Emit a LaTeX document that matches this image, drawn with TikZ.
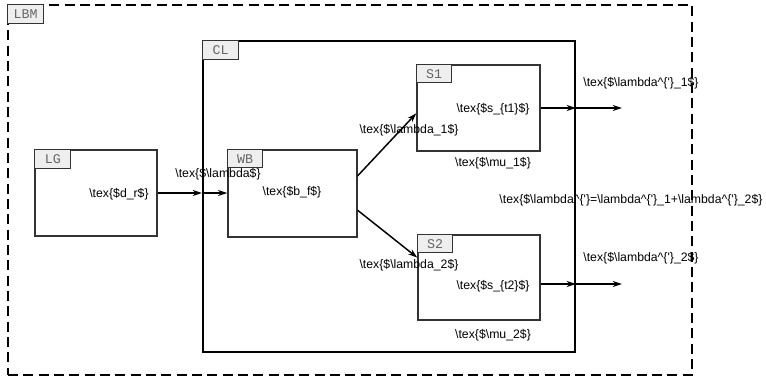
\documentclass[tikz,border=0pt]{standalone}
\usepackage{fontspec}
\setmainfont{Liberation Sans}
\setmonofont{Liberation Mono}
\usetikzlibrary{positioning,arrows.meta,calc}
\definecolor{edge}{HTML}{333333}
\definecolor{tagfill}{HTML}{EEEEEE}
\definecolor{tagtext}{HTML}{666666}
\newcommand{\texlit}[1]{\textbackslash tex\{\$#1\$\}}
\newcommand{\lam}{\textbackslash lambda}
\newcommand{\prm}{\textasciicircum\{\textquotesingle\}}
\tikzset{
  blk/.style={rectangle,draw=edge,line width=1pt,inner sep=0pt},
  sz/.style 2 args={minimum width=#1*0.75pt,minimum height=#2*0.75pt},
  tagbox/.style={rectangle,draw=edge,fill=tagfill,line width=0.8pt,text=tagtext,
    font=\ttfamily\fontsize{10}{12}\selectfont,minimum width=27pt,minimum height=14pt,
    inner sep=0pt,anchor=north west},
  lbl/.style={font=\fontsize{9.2}{11}\selectfont,inner sep=0pt},
  fl/.style={-{Stealth[length=7pt,width=4.5pt]},line width=1.1pt},
}

\begin{document}
\begin{tikzpicture}[x=0.75pt,y=-0.75pt]
  \useasboundingbox (0,0) rectangle (766,376);
  % frames
  \node[blk,sz={684}{370},draw=black,line width=1.4pt,dash pattern=on 7.5pt off 4pt] (lbm) at (350,190) {};
  \node[blk,sz={372}{311},draw=black,line width=1.5pt] (cl) at (389,196.5) {};
  \node[blk,sz={122}{86}] (lg) at (96,193) {};
  \node[blk,sz={129}{87}] (wb) at (292.5,193.5) {};
  \node[blk,sz={123}{86}] (s1) at (478.5,108) {};
  \node[blk,sz={122}{85}] (s2) at (479,277.5) {};
  % tags
  \node[tagbox] (lbmtag) at (lbm.north west) {LBM};
  \node[tagbox] (cltag) at (cl.north west) {CL};
  \node[tagbox] (lgtag) at (lg.north west) {LG};
  \node[tagbox,minimum width=26pt,minimum height=13.5pt] (wbtag) at (wb.north west) {WB};
  \node[tagbox,minimum width=26pt,minimum height=13.5pt] (s1tag) at (s1.north west) {S1};
  \node[tagbox,minimum width=26pt,minimum height=13.5pt] (s2tag) at (s2.north west) {S2};
  % texts
  \node[lbl] (dr) at (119,194) {\texlit{d\_r}};
  \node[lbl] (lam) at (218,174) {\texlit{\lam}};
  \node[lbl] (bf) at (292,192) {\texlit{b\_f}};
  \node[lbl] (lam1) at (409,130) {\texlit{\lam\_1}};
  \node[lbl] (st1) at (493,109) {\texlit{s\_\{t1\}}};
  \node[lbl] (mu1) at (493,163) {\texlit{\textbackslash mu\_1}};
  \node[lbl] (lam2) at (409,265) {\texlit{\lam\_2}};
  \node[lbl] (st2) at (493,286) {\texlit{s\_\{t2\}}};
  \node[lbl] (mu2) at (493,335) {\texlit{\textbackslash mu\_2}};
  \node[lbl] (lp1) at (641,83) {\texlit{\lam\prm\_1}};
  \node[lbl] (lp2) at (641,258) {\texlit{\lam\prm\_2}};
  \node[lbl] (lsum) at (631,200) {\texlit{\lam\prm=\lam\prm\_1+\lam\prm\_2}};
  % arrows
  \coordinate (o1) at (622,108);
  \coordinate (o2) at (622,284);
  \draw[fl] (lg.east) -- (cl.west |- lg.east);
  \draw[fl] (cl.west |- lg.east) -- (wb.west |- lg.east);
  \draw[fl] ($(wb.north east)!0.3!(wb.south east)$) -- ($(s1.north west)!0.56!(s1.south west)$);
  \draw[fl] ($(wb.north east)!0.69!(wb.south east)$) -- ($(s2.north west)!0.27!(s2.south west)$);
  \draw[fl] (s1.east |- o1) -- (cl.east |- o1);
  \draw[fl] (cl.east |- o1) -- (o1);
  \draw[fl] (s2.east |- o2) -- (cl.east |- o2);
  \draw[fl] (cl.east |- o2) -- (o2);
\end{tikzpicture}
\end{document}
